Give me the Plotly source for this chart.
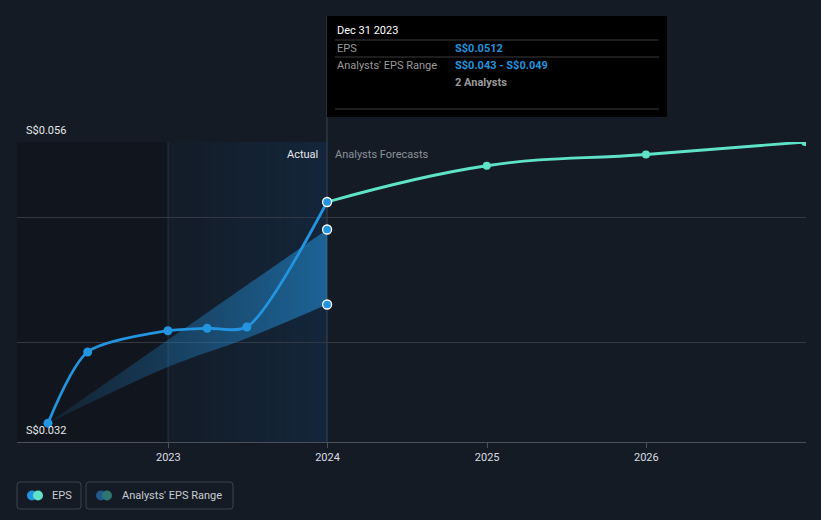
import plotly.graph_objects as go

# ---------------- data ----------------
actual_dates = ["2022-03-31", "2022-06-30", "2022-12-31", "2023-03-31", "2023-06-30", "2023-12-31"]
actual_eps = [0.0335, 0.0392, 0.0409, 0.0411, 0.0412, 0.0512]

forecast_dates = ["2023-12-31", "2024-12-31", "2025-12-31", "2026-12-31"]
forecast_eps = [0.0512, 0.0541, 0.0550, 0.0560]

range_dates_upper = ["2022-03-31", "2023-12-31"]
range_upper = [0.0335, 0.049]
range_dates_lower = ["2022-03-31", "2022-12-31", "2023-06-30", "2023-12-31"]
range_lower = [0.0335, 0.0380, 0.0403, 0.043]

y_grid = [0.032, 0.040, 0.050, 0.056]
x_ticks = ["2023-01-01", "2024-01-01", "2025-01-01", "2026-01-01"]
x_tick_labels = ["2023", "2024", "2025", "2026"]

BG = "#151b25"
BLUE = "#2394df"
TEAL = "#5fe3c8"
FONT = "Roboto"

# plot area in pixels
L, R, T, B = 17, 806, 142, 442
W, H = 821, 520


def px(x):
    return (x - L) / (R - L)


def py(y):
    return (B - y) / (B - T)


fig = go.Figure()

# analysts range band
fig.add_trace(go.Scatter(
    x=range_dates_lower, y=range_lower, mode="lines",
    line=dict(color="rgba(0,0,0,0)", width=0, shape="spline"),
    hoverinfo="skip", showlegend=False))
fig.add_trace(go.Scatter(
    x=range_dates_upper, y=range_upper, mode="lines",
    line=dict(color="rgba(0,0,0,0)", width=0),
    fill="tonexty",
    fillgradient=dict(type="horizontal",
                      colorscale=[[0, "rgba(35,148,223,0.10)"], [0.5, "rgba(35,148,223,0.33)"], [1, "rgba(35,148,223,0.55)"]]),
    hoverinfo="skip", showlegend=False))

# range end markers
fig.add_trace(go.Scatter(
    x=[range_dates_upper[-1], range_dates_lower[-1]], y=[range_upper[-1], range_lower[-1]],
    mode="markers", marker=dict(color=BLUE, size=9, line=dict(color="white", width=1.3)),
    hoverinfo="skip", showlegend=False))

# forecast line
fig.add_trace(go.Scatter(
    x=forecast_dates, y=forecast_eps, mode="lines+markers",
    line=dict(color=TEAL, width=2.8, shape="spline", smoothing=1.2),
    marker=dict(color=TEAL, size=8),
    hoverinfo="skip", showlegend=False))

# actual line
fig.add_trace(go.Scatter(
    x=actual_dates, y=actual_eps, mode="lines+markers",
    line=dict(color=BLUE, width=2.8, shape="spline", smoothing=0.75),
    marker=dict(color=BLUE, size=9,
                line=dict(color=["rgba(0,0,0,0)"] * 5 + ["white"], width=[0, 0, 0, 0, 0, 1.3])),
    hoverinfo="skip", showlegend=False))

shapes = []
# darker past region
shapes.append(dict(type="rect", xref="paper", yref="paper", x0=0, x1=px(168), y0=0, y1=1,
                   fillcolor="#11151d", line=dict(width=0), layer="below"))
# gradient actual region
n = 80
x0p, x1p = 168, 327
for i in range(n):
    a = 0.05 + 0.2 * (i / (n - 1)) ** 1.2
    shapes.append(dict(type="rect", xref="paper", yref="paper",
                       x0=px(x0p + (x1p - x0p) * i / n), x1=px(x0p + (x1p - x0p) * (i + 1) / n + 0.3),
                       y0=0, y1=1, fillcolor=f"rgba(20,70,120,{a:.3f})", line=dict(width=0), layer="below"))
# vertical boundary lines
shapes.append(dict(type="line", xref="paper", yref="paper", x0=px(168), x1=px(168), y0=0, y1=1,
                   line=dict(color="rgba(60,110,160,0.3)", width=1), layer="below"))
shapes.append(dict(type="line", xref="paper", yref="paper", x0=px(327), x1=px(327), y0=0, y1=py(16),
                   line=dict(color="#3b4452", width=1), layer="below"))

# tooltip box
shapes.append(dict(type="rect", xref="paper", yref="paper", x0=px(327), x1=px(667), y0=py(117), y1=py(16),
                   fillcolor="#000000", line=dict(width=0), layer="above"))
for yy in [40, 57, 109]:
    shapes.append(dict(type="line", xref="paper", yref="paper", x0=px(335), x1=px(659), y0=py(yy), y1=py(yy),
                       line=dict(color="#3a3a3a", width=1), layer="above"))

# legend boxes
def rounded_rect(x0, y0, x1, y1, r=3):
    path = (f"M {px(x0 + r)},{py(y0)} L {px(x1 - r)},{py(y0)} Q {px(x1)},{py(y0)} {px(x1)},{py(y0 + r)} "
            f"L {px(x1)},{py(y1 - r)} Q {px(x1)},{py(y1)} {px(x1 - r)},{py(y1)} "
            f"L {px(x0 + r)},{py(y1)} Q {px(x0)},{py(y1)} {px(x0)},{py(y1 - r)} "
            f"L {px(x0)},{py(y0 + r)} Q {px(x0)},{py(y0)} {px(x0 + r)},{py(y0)} Z")
    return dict(type="path", xref="paper", yref="paper", path=path,
                line=dict(color="#3d434e", width=1), fillcolor="rgba(0,0,0,0)")

shapes.append(rounded_rect(17, 482, 81, 509))
shapes.append(rounded_rect(86, 482, 233, 509))


def circle(cx, cy, r, color):
    return dict(type="circle", xref="paper", yref="paper", x0=px(cx - r), x1=px(cx + r),
                y0=py(cy + r), y1=py(cy - r), fillcolor=color, line=dict(width=0))

shapes.append(circle(32, 495.5, 5, BLUE))
shapes.append(circle(38, 495.5, 5, TEAL))
shapes.append(circle(101, 495.5, 5, "#1f5a8a"))
shapes.append(circle(107, 495.5, 5, "#2d7672"))

annotations = []


def text(x, y, s, color, size=11, anchor="left", weight="normal"):
    annotations.append(dict(xref="paper", yref="paper", x=px(x), y=py(y), text=s, showarrow=False,
                            xanchor=anchor, yanchor="middle",
                            font=dict(family=FONT, size=size, color=color, weight=weight)))


text(24, 130, "S$0.056", "#e8e8e8")
text(24, 430, "S$0.032", "#e8e8e8")
text(320, 154, "Actual", "#e8e8e8", anchor="right")
text(333, 154, "Analysts Forecasts", "#8c9199")

text(335, 31, "Dec 31 2023", "#ffffff", size=11)
text(335, 49, "EPS", "#9a9a9a", size=11)
text(453, 49, "S$0.0512", BLUE, size=11, weight="bold")
text(335, 66, "Analysts' EPS Range", "#9a9a9a", size=11)
text(453, 66, "S$0.043 - S$0.049", BLUE, size=11, weight="bold")
text(453, 83, "2 Analysts", "#9a9a9a", size=11, weight="bold")

text(50, 495.5, "EPS", "#c8ccd2", size=11)
text(120, 495.5, "Analysts' EPS Range", "#c8ccd2", size=11)

fig.update_layout(
    width=W, height=H,
    paper_bgcolor=BG, plot_bgcolor=BG,
    margin=dict(l=L, r=W - R, t=T, b=H - B, autoexpand=False),
    showlegend=False,
    shapes=shapes, annotations=annotations,
    font=dict(family=FONT, size=11, color="#d0d4da"),
    xaxis=dict(type="date", range=["2022-01-19", "2027-01-02"],
               tickvals=x_ticks, ticktext=x_tick_labels,
               showgrid=False, zeroline=False,
               showline=True, linecolor="#4a505b", linewidth=1,
               ticks="outside", ticklen=5, tickcolor="#4a505b",
               tickfont=dict(family=FONT, size=11, color="#d8dce2")),
    yaxis=dict(range=[0.032, 0.056], tickvals=y_grid, showticklabels=False,
               showgrid=True, gridcolor="#323844", gridwidth=1, zeroline=False, showline=False),
)

fig.write_html("out.html", config={"displayModeBar": False},
               post_script="document.body.style.margin='0';document.body.style.padding='0';"
                           "document.body.style.background='" + BG + "';document.body.style.overflow='hidden';")
